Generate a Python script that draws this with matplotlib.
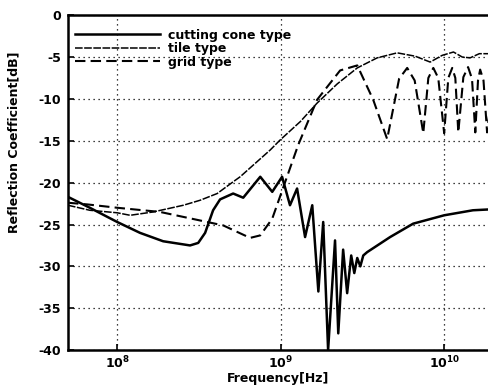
import numpy as np
import matplotlib
matplotlib.use('Agg')
import matplotlib.pyplot as plt
from matplotlib.ticker import FixedLocator, FixedFormatter, NullLocator

plt.rcParams['font.family'] = ['DejaVu Sans']
plt.rcParams['font.weight'] = 'bold'
plt.rcParams['mathtext.fontset'] = 'dejavusans'

# cutting cone type (thick solid)
cone_f = [5.0e7, 6.8e7, 1.0e8, 1.38e8, 1.91e8, 2.79e8, 3.13e8, 3.45e8, 3.86e8, 4.26e8,
          5.12e8, 5.9e8, 7.5e8, 8.88e8, 1.02e9, 1.14e9, 1.26e9, 1.41e9, 1.56e9, 1.70e9,
          1.82e9, 1.95e9, 2.15e9, 2.25e9, 2.41e9, 2.55e9, 2.70e9, 2.82e9, 2.94e9, 3.07e9,
          3.20e9, 3.38e9, 4.67e9, 6.46e9, 1.0e10, 1.50e10, 1.88e10]
cone_db = [-21.7, -23.0, -24.7, -26.0, -27.0, -27.5, -27.2, -26.0, -23.3, -22.0,
           -21.3, -21.8, -19.3, -21.1, -19.3, -22.7, -20.7, -26.5, -22.7, -33.0,
           -24.7, -40.0, -26.9, -38.0, -28.0, -33.2, -28.7, -30.8, -29.0, -30.0,
           -28.7, -28.3, -26.5, -24.9, -23.9, -23.3, -23.2]

# tile type (fine dashed)
tile_f = [5.0e7, 6.8e7, 1.0e8, 1.20e8, 1.66e8, 2.54e8, 3.22e8, 4.09e8, 5.12e8, 5.65e8,
          8.63e8, 9.93e8, 1.32e9, 1.67e9, 2.22e9, 2.94e9, 3.89e9, 5.16e9, 6.65e9, 8.21e9,
          9.72e9, 1.14e10, 1.29e10, 1.44e10, 1.64e10, 1.88e10]
tile_db = [-22.7, -23.3, -23.6, -23.9, -23.5, -22.7, -22.1, -21.3, -19.9, -19.3,
           -16.1, -14.9, -12.7, -10.5, -8.2, -6.3, -5.1, -4.5, -4.9, -5.6,
           -4.8, -4.4, -5.0, -5.1, -4.6, -4.6]

# grid type (dashed)
grid_f = [5.0e7, 6.56e7, 1.0e8, 1.83e8, 3.55e8, 4.44e8, 6.5e8, 7.5e8, 8.88e8, 1.04e9,
          1.28e9, 1.67e9, 2.31e9, 2.94e9, 3.68e9, 4.48e9, 5.3e9, 5.94e9, 6.6e9, 7.45e9,
          8.0e9, 8.58e9, 9.2e9, 1.0e10, 1.06e10, 1.12e10, 1.17e10, 1.22e10, 1.31e10, 1.40e10,
          1.48e10, 1.55e10, 1.61e10, 1.66e10, 1.74e10, 1.83e10, 1.88e10]
grid_db = [-22.4, -22.6, -23.0, -23.5, -24.7, -25.1, -26.6, -26.3, -24.3, -20.5,
           -15.5, -10.1, -6.6, -6.0, -10.1, -14.8, -7.6, -6.3, -7.8, -14.1,
           -7.5, -6.3, -7.5, -14.1, -7.5, -6.3, -7.5, -14.0, -7.4, -6.2,
           -7.6, -14.0, -7.8, -6.5, -7.8, -14.0, -12.0]

xticks = [1e8, 1e9, 1e10]
xticklabels = [r'$\mathbf{10^{8}}$', r'$\mathbf{10^{9}}$', r'$\mathbf{10^{10}}$']
yticks = [0, -5, -10, -15, -20, -25, -30, -35, -40]

fig = plt.figure(figsize=(4.89, 3.89), dpi=100)
ax = fig.add_axes([0.139, 0.100, 0.861, 0.861])

ax.plot(cone_f, cone_db, color='black', lw=1.8, label='cutting cone type')
ax.plot(tile_f, tile_db, color='black', lw=1.1, linestyle=(0, (5, 1)), label='tile type')
ax.plot(grid_f, grid_db, color='black', lw=1.5, linestyle=(0, (5, 2.5)), label='grid type')

ax.set_xscale('log')
ax.set_xlim(5.0e7, 1.88e10)
ax.set_ylim(-40, 0)
ax.xaxis.set_major_locator(FixedLocator(xticks))
ax.xaxis.set_major_formatter(FixedFormatter(xticklabels))
ax.xaxis.set_minor_locator(NullLocator())
ax.set_yticks(yticks)
ax.set_yticklabels([str(v) for v in yticks])
ax.tick_params(direction='in', length=4, width=1.2, labelsize=9, pad=5)
ax.tick_params(axis='x', pad=3)
ax.grid(True, color='black', linestyle=(0, (1, 3)), linewidth=0.9)

for s in ax.spines.values():
    s.set_linewidth(1.8)

ax.set_xlabel('Frequency[Hz]', fontsize=9, fontweight='bold', labelpad=1)
ax.set_ylabel('Reflection Coefficient[dB]', fontsize=9, fontweight='bold')
ax.yaxis.set_label_coords(-0.114, 0.62)

leg = ax.legend(loc='upper left', frameon=False, fontsize=9, handlelength=6.8,
                handletextpad=0.6, labelspacing=0.05, borderaxespad=0.0,
                bbox_to_anchor=(0.005, 0.975))

fig.savefig('out.png', dpi=100)
